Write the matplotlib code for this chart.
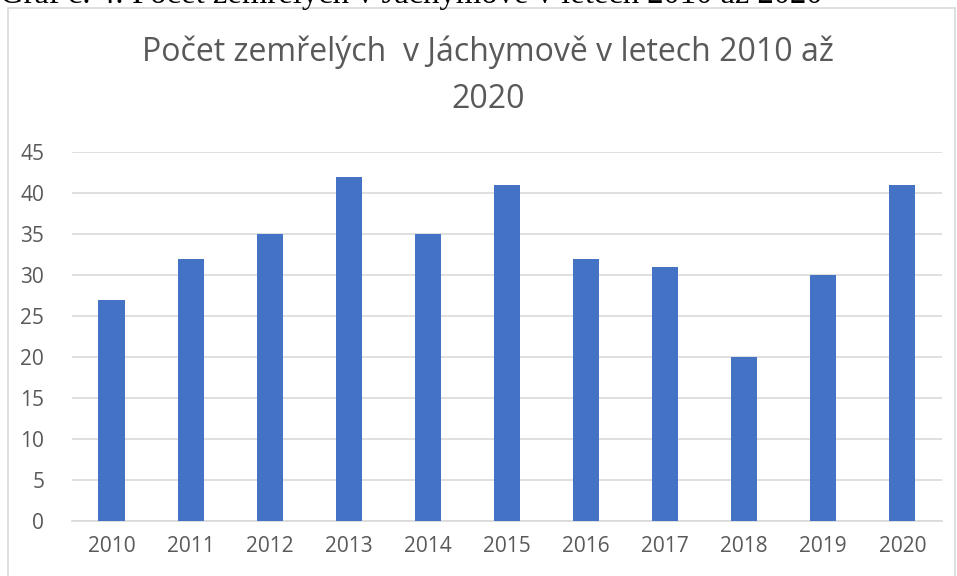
import matplotlib.pyplot as plt
from matplotlib.patches import Rectangle

years = ["2010", "2011", "2012", "2013", "2014", "2015", "2016", "2017", "2018", "2019", "2020"]
deaths = [27, 32, 35, 42, 35, 41, 32, 31, 20, 30, 41]

plt.rcParams['font.family'] = ['Open Sans', 'DejaVu Sans']

fig = plt.figure(figsize=(9.57, 5.76), dpi=100)
ax = fig.add_axes([0.0752, 0.0955, 0.909, 0.6406])

ax.bar(range(len(years)), deaths, width=0.33, color="#4472c4", zorder=3)
ax.set_xlim(-0.5, len(years) - 0.5)
ax.set_ylim(0, 45)
ax.set_yticks(range(0, 46, 5))
ax.set_xticks(range(len(years)))
ax.set_xticklabels(years)
ax.grid(axis="y", color="#d9d9d9", linewidth=1.2, zorder=0)
for s in ["top", "right", "left"]:
    ax.spines[s].set_visible(False)
ax.spines["bottom"].set_color("#d9d9d9")
ax.spines["bottom"].set_linewidth(1.2)
ax.tick_params(length=0, labelsize=15, labelcolor="#595959", pad=11)
ax.tick_params(axis="y", pad=20)

fig.text(0.51, 1 - 76 / 576, "Počet zemřelých  v Jáchymově v letech 2010 až\n2020",
         ha="center", va="center", fontsize=23, color="#595959", linespacing=1.55)

# chart frame
fig.add_artist(Rectangle((8 / 957, -0.01), 947 / 957, 1 - 8 / 576 + 0.01,
                         transform=fig.transFigure, fill=False,
                         edgecolor="#d9d9d9", linewidth=1.2))

# cut-off caption above the chart
fig.text(0.0, 1 - 3 / 576, "Graf č. 4: Počet zemřelých v Jáchymově v letech 2010 až 2020",
         ha="left", va="baseline", fontsize=23.5, family=["Liberation Serif"])

fig.savefig("out.png", dpi=100)
